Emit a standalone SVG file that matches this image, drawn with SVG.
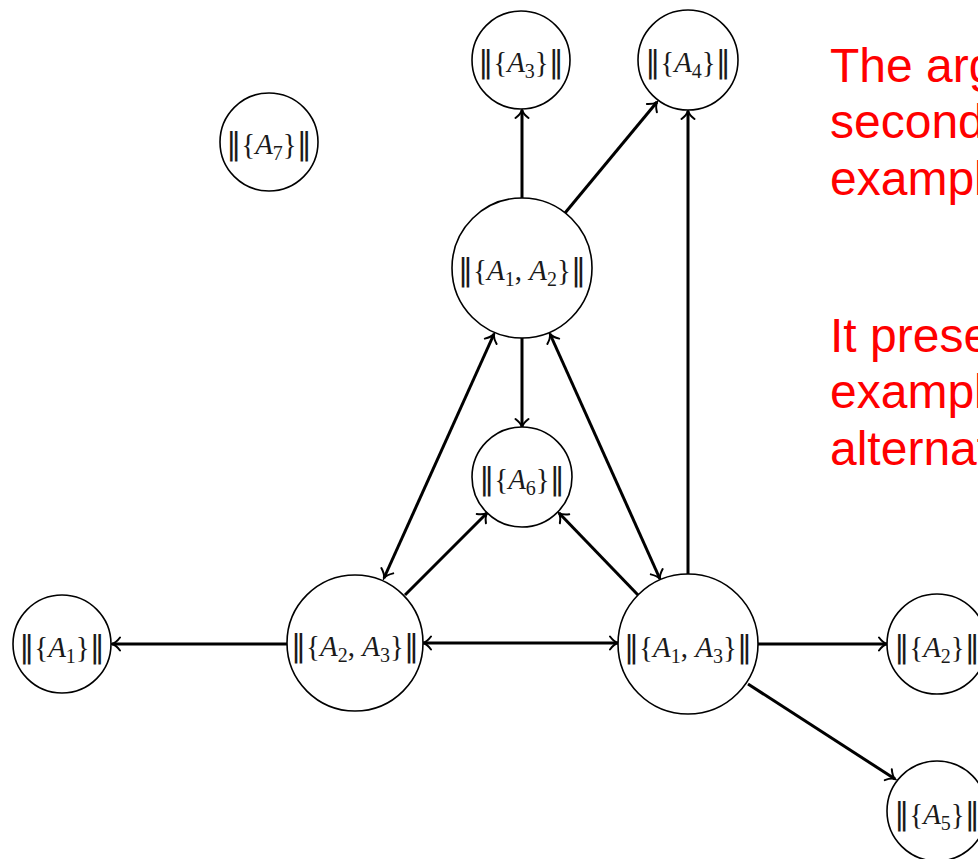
<svg xmlns="http://www.w3.org/2000/svg" width="978" height="859" viewBox="0 0 978 859">
<defs>
<marker id="arr" viewBox="-10 -8 12 16" refX="0" refY="0" markerWidth="12" markerHeight="16" markerUnits="userSpaceOnUse" orient="auto-start-reverse">
<path d="M-8,-6.5 C-5,-2.5 -2,-0.6 0,0 C-2,0.6 -5,2.5 -8,6.5" fill="none" stroke="#000" stroke-width="2" stroke-linecap="round"/>
</marker>
<style>
.node circle{fill:#fff;stroke:#000;stroke-width:1.6}
.lbl{font-family:"Liberation Serif","DejaVu Serif",serif;font-size:29px;fill:#1a1a1a;text-anchor:middle}
.it{font-style:italic}
.sub{font-size:20px}
.bar{font-family:"DejaVu Sans",sans-serif;font-size:30px}
#edges line{stroke:#000;stroke-width:3;fill:none}
.uni{marker-end:url(#arr)}
.bi{marker-start:url(#arr);marker-end:url(#arr)}
.note{font-family:"Liberation Sans",Arial,sans-serif;font-size:48px;fill:#ff0000}
</style>
</defs>
<rect width="978" height="859" fill="#fff"/>
<g id="edges">
<line class="uni" x1="522" y1="198" x2="522" y2="110"/>
<line class="uni" x1="565" y1="213" x2="657" y2="102"/>
<line class="uni" x1="688" y1="574" x2="688" y2="111"/>
<line class="uni" x1="522" y1="338" x2="522" y2="427"/>
<line class="bi" x1="494" y1="334" x2="384" y2="578"/>
<line class="bi" x1="550" y1="334" x2="660" y2="579"/>
<line class="uni" x1="405" y1="595" x2="487" y2="513"/>
<line class="uni" x1="638" y1="595" x2="559" y2="513"/>
<line class="uni" x1="287" y1="644" x2="112" y2="644"/>
<line class="bi" x1="423" y1="643" x2="618" y2="643"/>
<line class="uni" x1="758" y1="644" x2="887" y2="644"/>
<line class="uni" x1="748" y1="684" x2="895" y2="779"/>
</g>
<g id="n-A3" class="node"><circle cx="521" cy="60" r="49"/><text class="lbl" x="521" y="72"><tspan class="bar">‖</tspan>{<tspan class="it">A</tspan><tspan class="sub" dy="6">3</tspan><tspan dy="-6">}</tspan><tspan class="bar">‖</tspan></text></g>
<g id="n-A4" class="node"><circle cx="688" cy="60" r="50"/><text class="lbl" x="688" y="72"><tspan class="bar">‖</tspan>{<tspan class="it">A</tspan><tspan class="sub" dy="6">4</tspan><tspan dy="-6">}</tspan><tspan class="bar">‖</tspan></text></g>
<g id="n-A7" class="node"><circle cx="269" cy="142" r="49"/><text class="lbl" x="269" y="154"><tspan class="bar">‖</tspan>{<tspan class="it">A</tspan><tspan class="sub" dy="6">7</tspan><tspan dy="-6">}</tspan><tspan class="bar">‖</tspan></text></g>
<g id="n-A1A2" class="node"><circle cx="522" cy="268" r="70"/><text class="lbl" x="522" y="280"><tspan class="bar">‖</tspan>{<tspan class="it">A</tspan><tspan class="sub" dy="6">1</tspan><tspan dy="-6">, </tspan><tspan class="it">A</tspan><tspan class="sub" dy="6">2</tspan><tspan dy="-6">}</tspan><tspan class="bar">‖</tspan></text></g>
<g id="n-A6" class="node"><circle cx="522" cy="477" r="50"/><text class="lbl" x="522" y="489"><tspan class="bar">‖</tspan>{<tspan class="it">A</tspan><tspan class="sub" dy="6">6</tspan><tspan dy="-6">}</tspan><tspan class="bar">‖</tspan></text></g>
<g id="n-A2A3" class="node"><circle cx="355" cy="643" r="68"/><text class="lbl" x="355" y="656"><tspan class="bar">‖</tspan>{<tspan class="it">A</tspan><tspan class="sub" dy="6">2</tspan><tspan dy="-6">, </tspan><tspan class="it">A</tspan><tspan class="sub" dy="6">3</tspan><tspan dy="-6">}</tspan><tspan class="bar">‖</tspan></text></g>
<g id="n-A1A3" class="node"><circle cx="688" cy="644" r="70"/><text class="lbl" x="688" y="657"><tspan class="bar">‖</tspan>{<tspan class="it">A</tspan><tspan class="sub" dy="6">1</tspan><tspan dy="-6">, </tspan><tspan class="it">A</tspan><tspan class="sub" dy="6">3</tspan><tspan dy="-6">}</tspan><tspan class="bar">‖</tspan></text></g>
<g id="n-A1" class="node"><circle cx="62" cy="644" r="49"/><text class="lbl" x="62" y="657"><tspan class="bar">‖</tspan>{<tspan class="it">A</tspan><tspan class="sub" dy="6">1</tspan><tspan dy="-6">}</tspan><tspan class="bar">‖</tspan></text></g>
<g id="n-A2" class="node"><circle cx="937" cy="644" r="50"/><text class="lbl" x="937" y="657"><tspan class="bar">‖</tspan>{<tspan class="it">A</tspan><tspan class="sub" dy="6">2</tspan><tspan dy="-6">}</tspan><tspan class="bar">‖</tspan></text></g>
<g id="n-A5" class="node"><circle cx="937" cy="811" r="50"/><text class="lbl" x="937" y="824"><tspan class="bar">‖</tspan>{<tspan class="it">A</tspan><tspan class="sub" dy="6">5</tspan><tspan dy="-6">}</tspan><tspan class="bar">‖</tspan></text></g>
<g id="notes">
<text class="note" x="830" y="82">The arg</text>
<text class="note" x="830" y="138">second</text>
<text class="note" x="830" y="195">exampl</text>
<text class="note" x="830" y="352">It prese</text>
<text class="note" x="830" y="408">exampl</text>
<text class="note" x="830" y="465">alternat</text>
</g>
</svg>
